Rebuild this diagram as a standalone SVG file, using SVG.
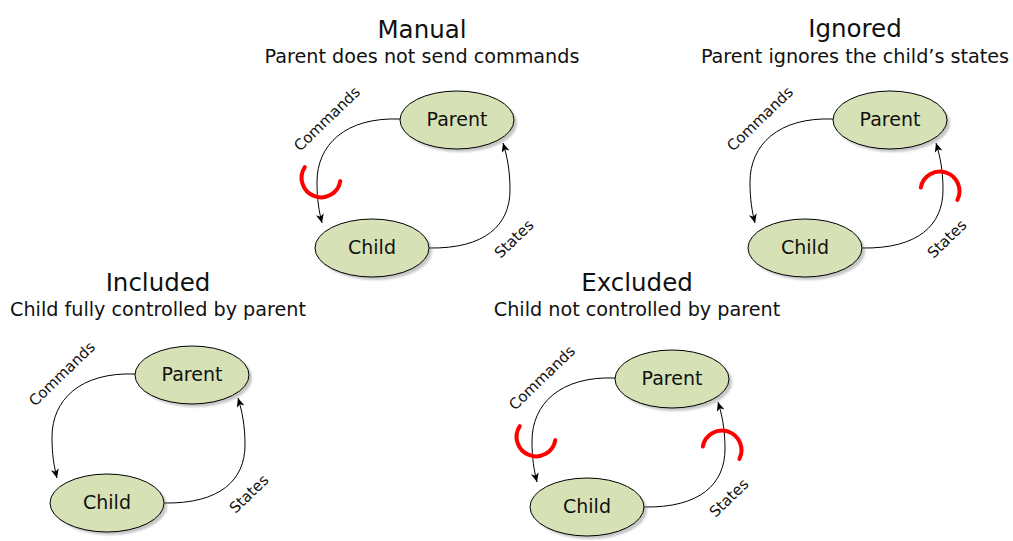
<svg xmlns="http://www.w3.org/2000/svg" width="1013" height="541" viewBox="0 0 1013 541">
  <defs>
    <style>
      text { font-family: "DejaVu Sans", Verdana, sans-serif; fill: #111; text-anchor: middle; }
      .title { font-size: 24.5px; }
      .sub { font-size: 19.2px; }
      .node-label { font-size: 19px; }
      .edge-label { font-size: 15px; }
      .node { fill: #d6e1b6; stroke: #000; stroke-width: 1; }
      .shadow { fill: #8c8c8c; opacity: 0.5; filter: url(#soft); }
      .edge { fill: none; stroke: #000; stroke-width: 1; marker-end: url(#arrow); }
      .break { fill: none; stroke: #ff0000; stroke-width: 4; stroke-linecap: round; }
    </style>
    <filter id="soft" x="-20%" y="-20%" width="140%" height="140%">
      <feGaussianBlur stdDeviation="1"/>
    </filter>
    <marker id="arrow" markerUnits="userSpaceOnUse" markerWidth="12" markerHeight="10" refX="9" refY="4" orient="auto">
      <path d="M0,0 L9,4 L0,8 L2.5,4 Z" fill="#000"/>
    </marker>
    <!-- one parent/child pair with its two curved links -->
    <g id="pair">
      <g class="connectors">
        <path class="edge" d="M400,119 C345,117 317,145 317,182 C317,200 319,211 322,223"/>
        <path class="edge" d="M429,248 C485,249 510,225 510,190 C510,170 507,156 503,143"/>
        <text class="edge-label" transform="translate(327,119) rotate(-44)" y="5">Commands</text>
        <text class="edge-label" transform="translate(514,239) rotate(-44)" y="5">States</text>
      </g>
      <g class="parent">
        <ellipse class="shadow" cx="460" cy="123" rx="57" ry="29"/>
        <ellipse class="node" cx="457" cy="120" rx="57" ry="29"/>
        <text class="node-label" x="457" y="126">Parent</text>
      </g>
      <g class="child">
        <ellipse class="shadow" cx="375" cy="251" rx="57" ry="29"/>
        <ellipse class="node" cx="372" cy="248" rx="57" ry="29"/>
        <text class="node-label" x="372" y="254">Child</text>
      </g>
    </g>
  </defs>

  <!-- Manual -->
  <g id="manual">
    <text class="title" x="422" y="38">Manual</text>
    <text class="sub" x="422" y="63">Parent does not send commands</text>
    <use id="manual-nodes" href="#pair"/>
    <g id="manual-breaks">
      <path class="break" d="M340.3,181.1 A19.5,19.5 0 1 1 304.8,167.1"/>
    </g>
  </g>

  <!-- Ignored -->
  <g id="ignored">
    <text class="title" x="855" y="37">Ignored</text>
    <text class="sub" x="855" y="63">Parent ignores the child’s states</text>
    <use id="ignored-nodes" href="#pair" transform="translate(433,0)"/>
    <g id="ignored-breaks" transform="translate(433,0)">
      <path class="break" d="M487.8,187.6 A19.5,19.5 0 1 1 524.4,199.9"/>
    </g>
  </g>

  <!-- Included -->
  <g id="included">
    <text class="title" x="158" y="291">Included</text>
    <text class="sub" x="158" y="316">Child fully controlled by parent</text>
    <use id="included-nodes" href="#pair" transform="translate(-265,255)"/>
  </g>

  <!-- Excluded -->
  <g id="excluded">
    <text class="title" x="637" y="291">Excluded</text>
    <text class="sub" x="637" y="316">Child not controlled by parent</text>
    <use id="excluded-nodes" href="#pair" transform="translate(215,259)"/>
    <g id="excluded-breaks" transform="translate(215,259)">
      <path class="break" d="M340.3,181.1 A19.5,19.5 0 1 1 304.8,167.1"/>
      <path class="break" d="M487.8,187.6 A19.5,19.5 0 1 1 524.4,199.9"/>
    </g>
  </g>
</svg>
